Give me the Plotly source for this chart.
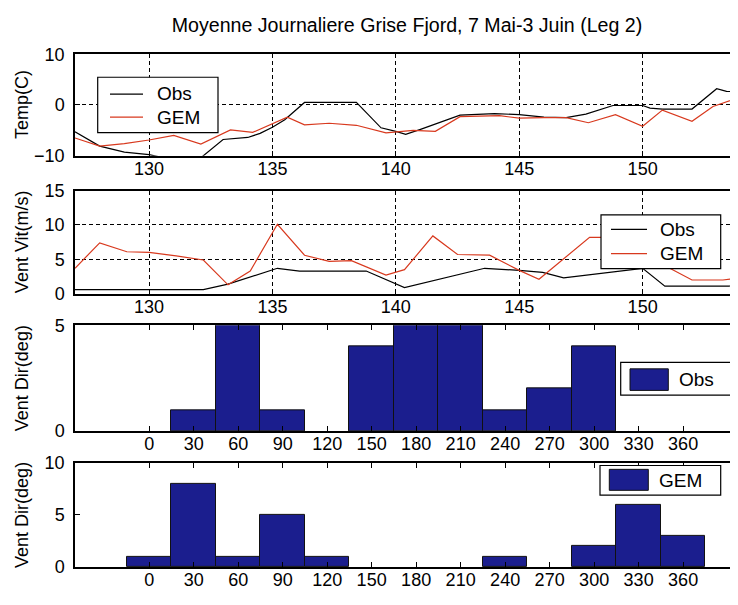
import plotly.graph_objects as go

# ---------------- data ----------------
# Panel 1: daily mean temperature (C) vs day of year
temp_obs_day = [127, 128, 129, 130, 131, 132, 133, 134, 134.5, 135, 135.5, 136.3, 138.4, 139.4,
                140, 140.4, 141, 142, 142.6, 144, 145, 146, 146.9, 147.7, 148.8, 150, 150.3,
                150.8, 152, 153, 153.4, 154]
temp_obs = [-5.3, -8.1, -9.3, -9.8, -10.8, -10.8, -6.8, -6.4, -5.6, -4.4, -2.9, 0.5, 0.5, -4.5,
            -5.2, -5.8, -4.8, -3.0, -2.0, -1.7, -1.9, -2.4, -2.5, -1.8, -0.1, -0.1, -0.6,
            -0.8, -0.8, 3.2, 2.7, 2.5]
temp_gem_day = [127, 128, 129, 130, 131, 132.1, 133.3, 134.2, 135.6, 136.3, 137.3, 138.4, 139.6,
                140.7, 141.6, 142.6, 144.2, 145, 146, 146.9, 147.8, 148.9, 150, 150.8, 152,
                152.85, 154]
temp_gem = [-6.5, -8.1, -7.6, -6.9, -6.0, -7.7, -4.9, -5.4, -2.4, -3.9, -3.6, -4.0, -5.5,
            -5.0, -5.2, -2.3, -2.1, -2.6, -2.5, -2.5, -3.5, -1.9, -4.2, -1.0, -3.2,
            -0.3, 1.6]

# Panel 2: wind speed (m/s)
wind_obs_day = [127, 132.2, 133.2, 134.1, 135.2, 136.1, 138.8, 140.35, 143.6, 145, 145.95,
                146.8, 148.3, 150, 150.9, 153.5, 154]
wind_obs = [0.6, 0.6, 1.4, 2.4, 3.7, 3.3, 3.3, 0.9, 3.7, 3.4, 3.1, 2.3, 3.0, 3.7, 1.1, 1.1, 1.5]
wind_gem_day = [127, 128, 129.1, 130, 131.1, 132.2, 133.2, 134.1, 135.2, 136.3, 137.3, 138.2,
                139.6, 140.35, 141.5, 142.5, 143.8, 145, 145.8, 147.85, 148.4, 149.3, 150.5,
                151.1, 152, 153.25, 154]
wind_gem = [3.7, 7.4, 6.1, 6.0, 5.5, 4.9, 1.3, 3.3, 10.1, 5.6, 4.7, 4.8, 2.7, 3.5, 8.4, 5.7,
            5.6, 3.4, 2.1, 8.2, 8.2, 7.5, 5.0, 3.7, 2.0, 2.0, 2.3]

# Panels 3-4: wind direction histograms (count of days per 30-degree bin)
dir_bins = [0, 30, 60, 90, 120, 150, 180, 210, 240, 270, 300, 330, 360]
dir_obs_counts = [0, 1, 5, 1, 0, 4, 5, 5, 1, 2, 4, 0, 0]
dir_gem_counts = [1, 8, 1, 5, 1, 0, 0, 0, 1, 0, 2, 6, 3]

title_text = "Moyenne Journaliere Grise Fjord, 7 Mai-3 Juin (Leg 2)"
ylabels = ["Temp(C)", "Vent Vit(m/s)", "Vent Dir(deg)", "Vent Dir(deg)"]

# ---------------- styling ----------------
PAGE_W, PAGE_H = 738, 605
OFF = 8                      # page body margin around the figure
W, H = PAGE_W - OFF, PAGE_H - OFF
FONT = "Liberation Sans, Arial, Helvetica, sans-serif"
RED = "#d8391e"
NAVY = "#1b1e8e"
TICK_FS = 18


def px(x):
    """page pixel x -> paper fraction"""
    return (x - OFF) / W


def py(y):
    """page pixel y -> paper fraction"""
    return 1 - (y - OFF) / H


def edge_widths(counts):
    # no outline for empty bins (as in the reference)
    return [1 if c > 0 else 0 for c in counts]


fig = go.Figure()

fig.add_trace(go.Scatter(x=temp_obs_day, y=temp_obs, mode="lines", name="Obs",
                         line=dict(color="black", width=1.2), xaxis="x", yaxis="y", showlegend=False))
fig.add_trace(go.Scatter(x=temp_gem_day, y=temp_gem, mode="lines", name="GEM",
                         line=dict(color=RED, width=1.2), xaxis="x", yaxis="y", showlegend=False))
fig.add_trace(go.Scatter(x=wind_obs_day, y=wind_obs, mode="lines", name="Obs",
                         line=dict(color="black", width=1.2), xaxis="x2", yaxis="y2", showlegend=False))
fig.add_trace(go.Scatter(x=wind_gem_day, y=wind_gem, mode="lines", name="GEM",
                         line=dict(color=RED, width=1.2), xaxis="x2", yaxis="y2", showlegend=False))
fig.add_trace(go.Bar(x=dir_bins, y=dir_obs_counts, width=30, name="Obs",
                     marker=dict(color=NAVY, line=dict(color="#111111", width=edge_widths(dir_obs_counts))),
                     xaxis="x3", yaxis="y3", showlegend=False))
fig.add_trace(go.Bar(x=dir_bins, y=dir_gem_counts, width=30, name="GEM",
                     marker=dict(color=NAVY, line=dict(color="#111111", width=edge_widths(dir_gem_counts))),
                     xaxis="x4", yaxis="y4", showlegend=False))

AX_L, AX_R = 75, 738
xdom = [px(AX_L), px(AX_R)]
day_range = [127, 127 + (AX_R - AX_L) / 24.68]
deg_range = [-50, 397]

common_axis = dict(showline=True, linecolor="black", linewidth=1.5, zeroline=False,
                   ticks="inside", ticklen=5, tickcolor="black",
                   tickfont=dict(size=TICK_FS, color="black", family=FONT))
grid = dict(showgrid=True, gridcolor="black", gridwidth=1, griddash="4px,3px")

panels_y = [(45.5, 150.5), (186.5, 293.3), (326.0, 435.3), (468.3, 576.0)]
XSTAND = -4
YSTAND = 5

layout = dict(
    width=W, height=H,
    margin=dict(l=0, r=0, t=0, b=0),
    paper_bgcolor="white", plot_bgcolor="white",
    font=dict(family=FONT, color="black"),
    showlegend=False,
    bargap=0,
    title=dict(text=title_text, x=px(407), xanchor="center", y=py(25), yanchor="middle",
               font=dict(size=19.6, family=FONT, color="black")),
)

layout["xaxis"] = dict(domain=xdom, range=day_range, anchor="y", tick0=130, dtick=5,
                       mirror=True, ticklabelstandoff=XSTAND, **common_axis, **grid)
layout["yaxis"] = dict(domain=[py(panels_y[0][1]), py(panels_y[0][0])], range=[-10, 10],
                       tickvals=[-10, 0, 10], anchor="x", mirror=False, ticklabelstandoff=YSTAND,
                       **common_axis, **grid)
layout["xaxis2"] = dict(domain=xdom, range=day_range, anchor="y2", tick0=130, dtick=5,
                        mirror=True, ticklabelstandoff=XSTAND, **common_axis, **grid)
layout["yaxis2"] = dict(domain=[py(panels_y[1][1]), py(panels_y[1][0])], range=[0, 15],
                        tickvals=[0, 5, 10, 15], anchor="x2", mirror=False, ticklabelstandoff=YSTAND,
                        **common_axis, **grid)
layout["xaxis3"] = dict(domain=xdom, range=deg_range, anchor="y3", tickvals=dir_bins,
                        mirror="ticks", showgrid=False, ticklabelstandoff=XSTAND, **common_axis)
layout["yaxis3"] = dict(domain=[py(panels_y[2][1]), py(panels_y[2][0])], range=[0, 5],
                        tickvals=[0, 5], anchor="x3", mirror=False, showgrid=False,
                        ticklabelstandoff=YSTAND, **common_axis)
layout["xaxis4"] = dict(domain=xdom, range=deg_range, anchor="y4", tickvals=dir_bins,
                        mirror="ticks", showgrid=False, ticklabelstandoff=XSTAND, **common_axis)
layout["yaxis4"] = dict(domain=[py(panels_y[3][1]), py(panels_y[3][0])], range=[0, 10],
                        tickvals=[0, 5, 10], anchor="x4", mirror=False, showgrid=False,
                        ticklabelstandoff=YSTAND, **common_axis)

fig.update_layout(**layout)

# y-axis titles
for label, (top, bot) in zip(ylabels, panels_y):
    fig.add_annotation(text=label, x=px(22), y=py((top + bot) / 2), xref="paper", yref="paper",
                       textangle=-90, showarrow=False, xanchor="center", yanchor="middle",
                       font=dict(size=18, family=FONT, color="black"))

# ---------------- legends (drawn as boxes) ----------------
shapes = []
annots = []


def box(x0, y0, x1, y1):
    shapes.append(dict(type="rect", xref="paper", yref="paper", x0=px(x0), x1=px(x1),
                       y0=py(y1), y1=py(y0), fillcolor="white",
                       line=dict(color="black", width=1.2), layer="above"))


def sample_line(x0, x1, y, color):
    shapes.append(dict(type="line", xref="paper", yref="paper", x0=px(x0), x1=px(x1),
                       y0=py(y), y1=py(y), line=dict(color=color, width=1.2), layer="above"))


def swatch(x0, y0, x1, y1):
    shapes.append(dict(type="rect", xref="paper", yref="paper", x0=px(x0), x1=px(x1),
                       y0=py(y1), y1=py(y0), fillcolor=NAVY,
                       line=dict(color="#111111", width=1), layer="above"))


def label(text, x, y):
    annots.append(dict(text=text, x=px(x), y=py(y), xref="paper", yref="paper", showarrow=False,
                       xanchor="left", yanchor="middle",
                       font=dict(size=19, family=FONT, color="black")))


# panel 1 legend
box(97.7, 69.3, 218, 126.7)
sample_line(110, 143, 86.7, "black")
sample_line(110, 143, 110.5, RED)
label("Obs", 155, 86.5)
label("GEM", 155, 110.5)
# panel 2 legend
box(601, 211.7, 720.7, 267.3)
sample_line(611, 647, 226.7, "black")
sample_line(611, 647, 251.7, RED)
label("Obs", 657.5, 226.5)
label("GEM", 657.5, 251.5)
# panel 3 legend
box(620.7, 364.3, 731.7, 398.3)
swatch(630, 371, 668.3, 393.3)
label("Obs", 676.5, 382)
# panel 4 legend
box(600, 471, 720.7, 501.7)
swatch(609.3, 475, 648.3, 496.7)
label("GEM", 656.5, 486.5)

for s in shapes:
    fig.add_shape(**s)
for a in annots:
    fig.add_annotation(**a)

fig.write_html("out.html")
